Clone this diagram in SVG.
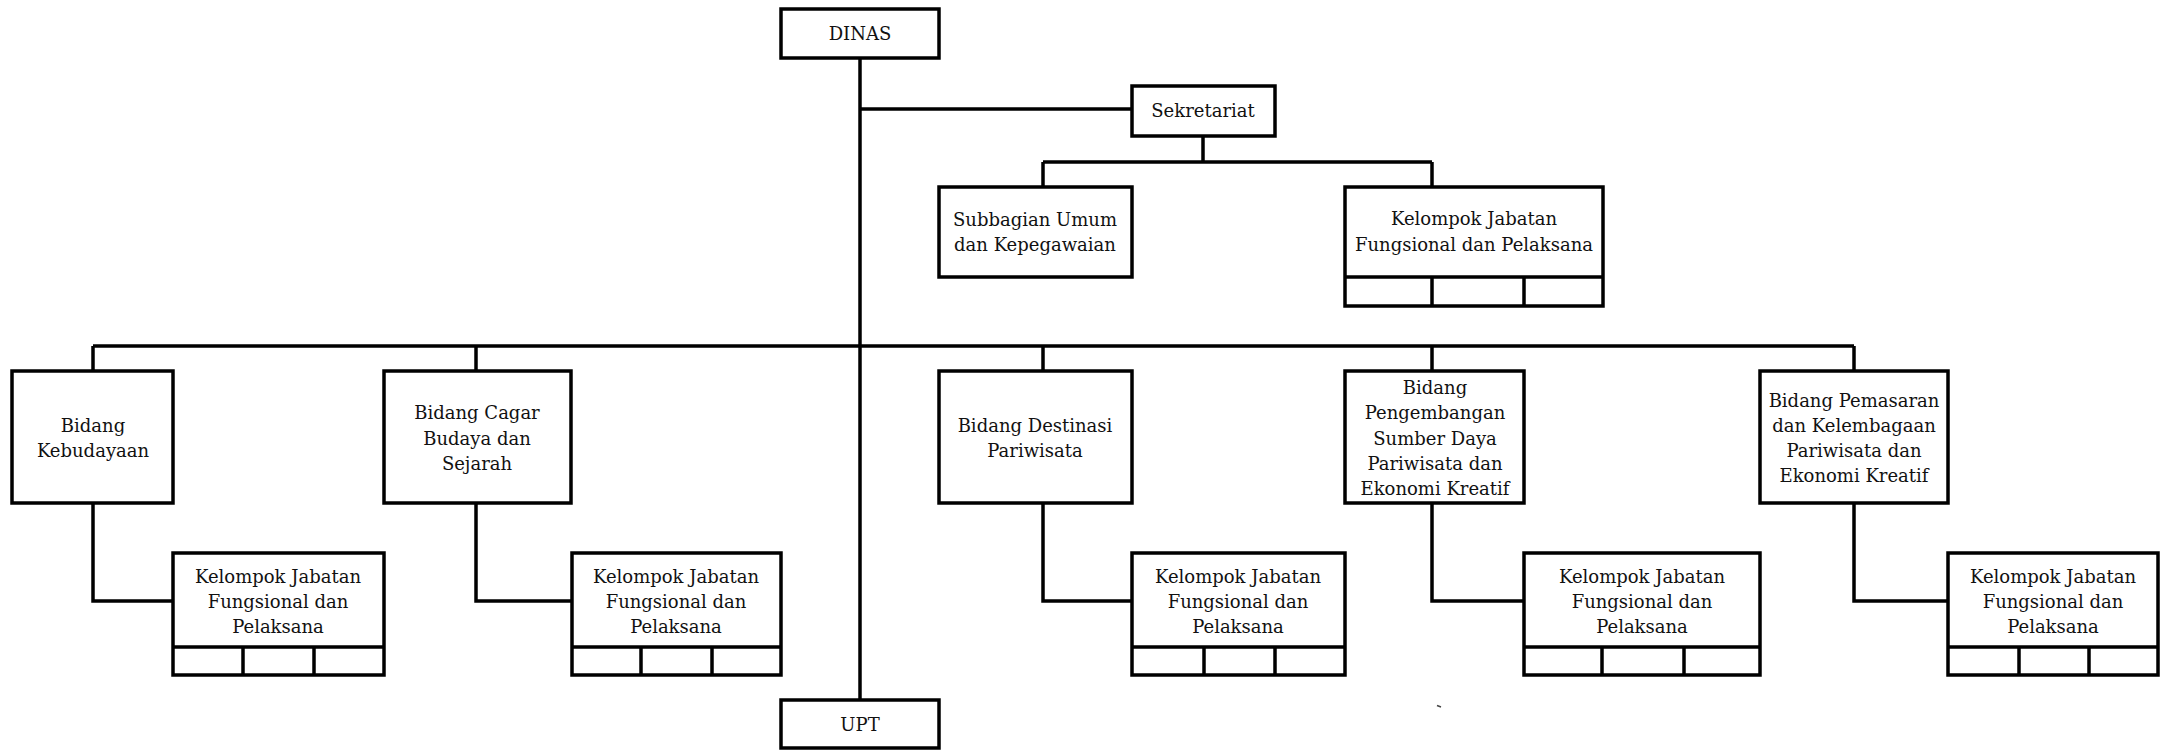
<svg xmlns="http://www.w3.org/2000/svg" width="2168" height="751" viewBox="0 0 2168 751">
  <style>
    .box { fill: #ffffff; stroke: #000000; stroke-width: 3.5; }
    .div { fill: none; stroke: #000000; stroke-width: 3.5; }
    .link { fill: none; stroke: #000000; stroke-width: 3.5; }
    text { font-family: "DejaVu Serif", "Liberation Serif", serif; font-size: 18px; fill: #111111; text-anchor: middle; }
  </style>
  <rect width="2168" height="751" fill="#ffffff"/>

  <!-- connectors -->
  <g id="connectors">
    <path class="link" d="M860 58 V700"/>
    <path class="link" d="M860 109 H1132"/>
    <path class="link" d="M1203 136 V162 M1043 162 H1432 M1043 162 V187 M1432 162 V187"/>
    <path class="link" d="M93 346 H1854 M93 346 V371 M476 346 V371 M1043 346 V371 M1432 346 V371 M1854 346 V371"/>
    <path class="link" d="M93 503 V601 H173"/>
    <path class="link" d="M476 503 V601 H572"/>
    <path class="link" d="M1043 503 V601 H1132"/>
    <path class="link" d="M1432 503 V601 H1524"/>
    <path class="link" d="M1854 503 V601 H1948"/>
  </g>

  <g id="dinas">
    <rect class="box" x="781" y="9" width="158" height="49"/>
    <text x="860" y="40">DINAS</text>
  </g>

  <g id="sekretariat">
    <rect class="box" x="1132" y="86" width="143" height="50"/>
    <text x="1203" y="117">Sekretariat</text>
  </g>

  <g id="subbagian-umum">
    <rect class="box" x="939" y="187" width="193" height="90"/>
    <text x="1035" y="226">Subbagian Umum</text>
    <text x="1035" y="251">dan Kepegawaian</text>
  </g>

  <g id="kelompok-sekretariat">
    <rect class="box" x="1345" y="187" width="258" height="119"/>
    <path class="div" d="M1345 277 H1603 M1432 277 V306 M1524 277 V306"/>
    <text x="1474" y="225">Kelompok Jabatan</text>
    <text x="1474" y="251">Fungsional dan Pelaksana</text>
  </g>

  <g id="bidang-kebudayaan">
    <rect class="box" x="12" y="371" width="161" height="132"/>
    <text x="93" y="432">Bidang</text>
    <text x="93" y="457">Kebudayaan</text>
  </g>

  <g id="bidang-cagar-budaya">
    <rect class="box" x="384" y="371" width="187" height="132"/>
    <text x="477" y="419">Bidang Cagar</text>
    <text x="477" y="445">Budaya dan</text>
    <text x="477" y="470">Sejarah</text>
  </g>

  <g id="bidang-destinasi">
    <rect class="box" x="939" y="371" width="193" height="132"/>
    <text x="1035" y="432">Bidang Destinasi</text>
    <text x="1035" y="457">Pariwisata</text>
  </g>

  <g id="bidang-pengembangan">
    <rect class="box" x="1345" y="371" width="179" height="132"/>
    <text x="1435" y="394">Bidang</text>
    <text x="1435" y="419">Pengembangan</text>
    <text x="1435" y="445">Sumber Daya</text>
    <text x="1435" y="470">Pariwisata dan</text>
    <text x="1435" y="495">Ekonomi Kreatif</text>
  </g>

  <g id="bidang-pemasaran">
    <rect class="box" x="1760" y="371" width="188" height="132"/>
    <text x="1854" y="407">Bidang Pemasaran</text>
    <text x="1854" y="432">dan Kelembagaan</text>
    <text x="1854" y="457">Pariwisata dan</text>
    <text x="1854" y="482">Ekonomi Kreatif</text>
  </g>

  <g id="kelompok-kebudayaan">
    <rect class="box" x="173" y="553" width="211" height="122"/>
    <path class="div" d="M173 647 H384 M243 647 V675 M314 647 V675"/>
    <text x="278" y="583">Kelompok Jabatan</text>
    <text x="278" y="608">Fungsional dan</text>
    <text x="278" y="633">Pelaksana</text>
  </g>

  <g id="kelompok-cagar-budaya">
    <rect class="box" x="572" y="553" width="209" height="122"/>
    <path class="div" d="M572 647 H781 M641 647 V675 M712 647 V675"/>
    <text x="676" y="583">Kelompok Jabatan</text>
    <text x="676" y="608">Fungsional dan</text>
    <text x="676" y="633">Pelaksana</text>
  </g>

  <g id="kelompok-destinasi">
    <rect class="box" x="1132" y="553" width="213" height="122"/>
    <path class="div" d="M1132 647 H1345 M1204 647 V675 M1275 647 V675"/>
    <text x="1238" y="583">Kelompok Jabatan</text>
    <text x="1238" y="608">Fungsional dan</text>
    <text x="1238" y="633">Pelaksana</text>
  </g>

  <g id="kelompok-pengembangan">
    <rect class="box" x="1524" y="553" width="236" height="122"/>
    <path class="div" d="M1524 647 H1760 M1602 647 V675 M1684 647 V675"/>
    <text x="1642" y="583">Kelompok Jabatan</text>
    <text x="1642" y="608">Fungsional dan</text>
    <text x="1642" y="633">Pelaksana</text>
  </g>

  <g id="kelompok-pemasaran">
    <rect class="box" x="1948" y="553" width="210" height="122"/>
    <path class="div" d="M1948 647 H2158 M2019 647 V675 M2089 647 V675"/>
    <text x="2053" y="583">Kelompok Jabatan</text>
    <text x="2053" y="608">Fungsional dan</text>
    <text x="2053" y="633">Pelaksana</text>
  </g>

  <g id="upt">
    <rect class="box" x="781" y="700" width="158" height="48"/>
    <text x="860" y="731">UPT</text>
  </g>

  <!-- stray tick mark -->
  <path d="M1437 705.5 L1441 707" stroke="#444444" stroke-width="1.5" fill="none"/>
</svg>
